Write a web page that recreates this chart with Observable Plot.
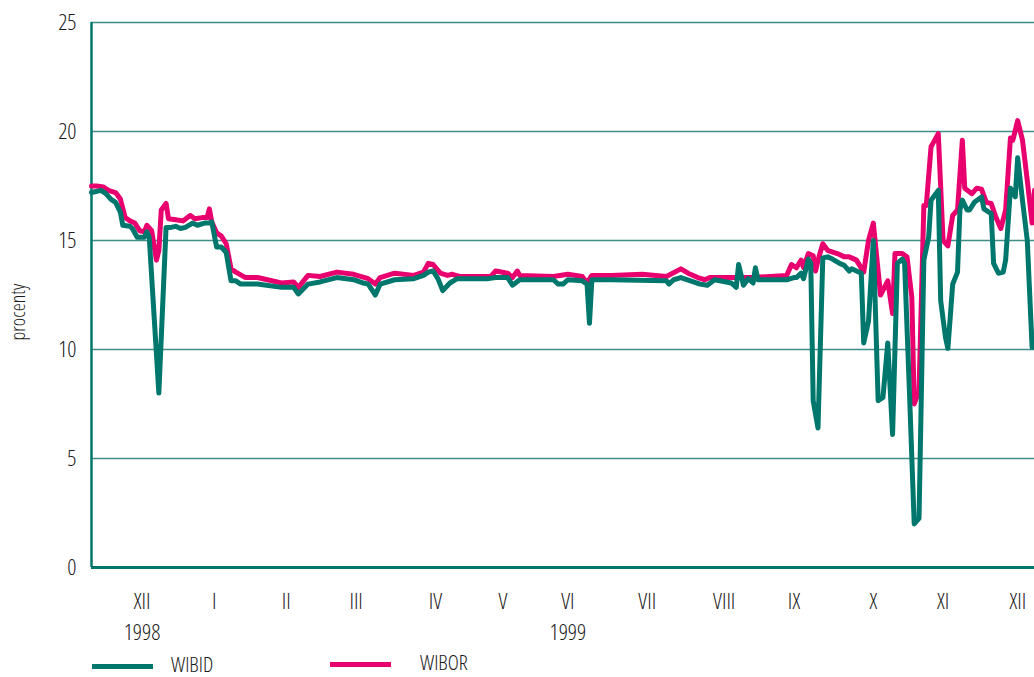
<!DOCTYPE html>
<html>
<head>
<meta charset="utf-8">
<script src="https://cdn.jsdelivr.net/npm/d3@7"></script>
<script src="https://cdn.jsdelivr.net/npm/@observablehq/plot@0.6"></script>
<style>
  body { margin: 0; background: #fff; }
  #wrap { position: relative; width: 1034px; height: 677px; overflow: hidden;
          font-family: 'Open Sans', sans-serif; font-stretch: 75%; font-weight: 300; color: #1a1a1a; }
  #chart svg text { font-stretch: 75%; font-weight: 300; }
  #legend { position: absolute; left: 0; top: 645px; width: 1034px; height: 32px; }
  .sw { position: absolute; width: 61px; height: 5px; }
  .lt { position: absolute; font-size: 21px; line-height: 18px; white-space: nowrap; font-stretch: 75%; font-weight: 300; }
</style>
</head>
<body>
<div id="wrap">
  <div id="chart"></div>
  <div id="legend"></div>
</div>
<script>
// ---- data (day offsets from 23 Nov 1998, values in %) ----
const startUTC = Date.UTC(1998, 10, 23);

const wibidDays = [0, 4, 6, 8, 10, 12, 13, 16, 17, 19, 21, 22, 23, 24, 28, 31, 33, 35, 37, 39, 42, 44, 47, 49, 50,
  52, 54, 56, 58, 60, 62, 69, 79, 84, 86, 90, 95, 102, 109, 113, 115, 118, 120, 126, 134, 138, 140, 142, 144, 146,
  149, 152, 165, 168, 173, 175, 178, 192, 194, 196, 198, 204, 206, 207, 208, 216, 239, 240, 242, 245, 249, 253,
  256, 259, 266, 268, 269, 271, 273, 275, 276, 277, 289, 292, 293, 295, 296, 298, 299, 300, 302, 304, 306, 308,
  311, 313, 315, 316, 318, 320, 321, 323, 325, 327, 329, 331, 333, 335, 337, 338, 340, 342, 344, 346, 348, 349,
  352, 353, 355, 356, 358, 360, 361, 362, 364, 365, 367, 370, 371, 373, 374, 375, 377, 379, 380, 382, 384, 385,
  387, 389, 391, 392];
const wibidValues = [17.2, 17.3, 17.15, 16.9, 16.75, 16.3, 15.7, 15.65, 15.55, 15.15, 15.15, 15.15, 15.4, 15.15,
  8.0, 15.6, 15.6, 15.65, 15.55, 15.6, 15.8, 15.7, 15.8, 15.8, 15.85,
  14.7, 14.7, 14.45, 13.15, 13.15, 13.0, 13.0, 12.85, 12.85, 12.55, 13.0, 13.1, 13.3, 13.2, 13.05, 13.0, 12.5,
  13.0, 13.2, 13.25, 13.4, 13.55, 13.6, 13.25, 12.7,
  13.05, 13.25, 13.25, 13.3, 13.3, 12.95, 13.2, 13.2, 13.0, 13.0, 13.2, 13.15, 13.0, 11.2, 13.2, 13.2, 13.15,
  13.0, 13.2, 13.3, 13.15, 13.0,
  12.95, 13.2, 13.05, 12.85, 13.9, 12.95, 13.25, 13.05, 13.75, 13.2, 13.2, 13.3, 13.3, 13.5, 13.25, 14.15,
  13.95, 7.65, 6.4, 14.2, 14.25, 14.15,
  13.95, 13.85, 13.6, 13.7, 13.6, 13.5, 10.3, 11.3, 15.0, 7.65, 7.8, 10.3, 6.1, 13.95, 14.15, 13.95, 8.1, 2.0,
  2.25, 14.1, 15.15, 16.85,
  17.3, 12.25, 10.55, 10.05, 13.0, 13.55, 16.4, 16.85, 16.4, 16.4, 16.75, 17.0, 16.45, 16.3, 16.25, 13.95,
  13.5, 13.55, 14.1, 17.4, 17.0, 18.8,
  16.85, 15.0, 10.1, 10.1];

const wiborDays = [0, 2, 5, 7, 10, 12, 14, 16, 18, 20, 22, 23, 25, 27, 28, 29, 31, 32, 35, 38, 41, 43, 46, 48, 49,
  50, 52, 54, 56, 58, 60, 64, 69, 79, 84, 86, 90, 95, 102, 109, 115, 118, 120, 126, 134, 138, 140, 142, 145, 148,
  150, 153, 166, 168, 173, 175, 177, 178, 192, 198, 204, 206, 208, 216, 229, 239, 245, 248, 252, 255, 257, 275,
  289, 291, 293, 295, 296, 298, 300, 301, 302, 304, 306, 310, 313, 315, 318, 321, 323, 325, 328, 331, 333, 334,
  337, 339, 341, 342, 344, 346, 347, 349, 350, 352, 354, 356, 358, 360, 362, 363, 366, 368, 370, 372, 374, 376,
  378, 380, 382, 383, 385, 387, 389, 391, 392];
const wiborValues = [17.5, 17.5, 17.45, 17.3, 17.2, 16.9, 16.05, 15.9, 15.8, 15.45, 15.4, 15.7, 15.45, 14.1,
  14.55, 16.4, 16.7, 16.0, 15.95, 15.9, 16.15, 16.0, 16.05, 16.05, 16.45,
  15.85, 15.35, 15.2, 14.85, 13.7, 13.55, 13.3, 13.3, 13.05, 13.1, 12.85, 13.4, 13.35, 13.55, 13.45, 13.25,
  13.0, 13.3, 13.5, 13.4, 13.55, 13.95, 13.9, 13.5, 13.4,
  13.45, 13.35, 13.35, 13.6, 13.5, 13.3, 13.6, 13.4, 13.35, 13.45, 13.35, 13.05, 13.4, 13.4, 13.45, 13.35,
  13.7, 13.5, 13.3, 13.2, 13.3, 13.3,
  13.4, 13.9, 13.75, 14.1, 13.75, 14.4, 14.3, 13.6, 14.1, 14.85, 14.55, 14.4, 14.25, 14.25, 14.1, 13.55, 15.0,
  15.8, 12.5, 13.15, 11.65, 14.4,
  14.4, 14.25, 12.4, 7.5, 8.1, 16.6, 16.6, 19.3, 19.5, 19.9, 15.0, 14.75, 16.15, 16.4, 19.6, 17.4, 17.15, 17.4,
  17.35, 16.75, 16.7, 16.05,
  15.55, 16.4, 19.7, 19.6, 20.5, 19.6, 17.75, 15.8, 17.3];

const monthTickDays = [21, 51, 81, 110, 143, 171, 198, 231, 263, 292, 325, 354, 385];
const monthLabels = ["XII", "I", "II", "III", "IV", "V", "VI", "VII", "VIII", "IX", "X", "XI", "XII"];
const yearTickDays = [21, 198];
const yearLabels = ["1998", "1999"];
const yTicks = [0, 5, 10, 15, 20, 25];
const yTitle = "procenty";
const seriesNames = ["WIBID", "WIBOR"];
const seriesColors = ["#00776D", "#E8006F"];
const axisColor = "#00776D";
const gridColor = "#3F8F88";

// ---- build ----
const day = d => new Date(startUTC + d * 864e5);
const toRows = (days, vals, name) => days.map((d, i) => ({date: day(d), value: vals[i], series: name}));
const wibid = toRows(wibidDays, wibidValues, seriesNames[0]);
const wibor = toRows(wiborDays, wiborValues, seriesNames[1]);

const monthDates = monthTickDays.map(day);
const monthMap = new Map(monthDates.map((d, i) => [+d, monthLabels[i]]));
const yearDates = yearTickDays.map(day);
const yearMap = new Map(yearDates.map((d, i) => [+d, yearLabels[i]]));

const chart = Plot.plot({
  width: 1034,
  height: 645,
  marginLeft: 91,
  marginRight: 0,
  marginTop: 22,
  marginBottom: 78,
  style: {fontFamily: "'Open Sans', sans-serif", fontSize: "22.5px", color: "#1a1a1a", background: "#fff", overflow: "visible"},
  x: {type: "utc", domain: [day(0), day(392)]},
  y: {domain: [0, 25]},
  marks: [
    Plot.gridY(yTicks, {stroke: gridColor, strokeOpacity: 1, strokeWidth: 1.5}),
    Plot.ruleX([day(0)], {stroke: axisColor, strokeWidth: 2.5}),
    Plot.ruleY([0], {stroke: axisColor, strokeWidth: 3}),
    Plot.lineY(wibor, {x: "date", y: "value", stroke: seriesColors[1], strokeWidth: 5, strokeLinejoin: "round"}),
    Plot.lineY(wibid, {x: "date", y: "value", stroke: seriesColors[0], strokeWidth: 5, strokeLinejoin: "round"}),
    Plot.axisY(yTicks, {tickSize: 0, tickPadding: 15, label: null}),
    Plot.axisX(monthDates, {tickSize: 0, tickPadding: 26, tickFormat: d => monthMap.get(+d), label: null}),
    Plot.axisX(yearDates, {tickSize: 0, tickPadding: 57, tickFormat: d => yearMap.get(+d), label: null})
  ]
});
document.getElementById("chart").appendChild(chart);

// y-axis title, rotated, left of the axis (slightly below centre as in the reference)
d3.select(chart).append("text")
  .attr("transform", "translate(18,312) rotate(-90)")
  .attr("text-anchor", "middle")
  .attr("dy", "0.35em")
  .style("font-size", "20px")
  .attr("fill", "#1a1a1a")
  .text(yTitle);

// ---- legend ----
const legend = document.getElementById("legend");
const legendPos = [{sx: 92, sy: 19, tx: 171, ty: 10}, {sx: 330, sy: 17, tx: 420, ty: 8}];
seriesNames.forEach((name, i) => {
  const sw = document.createElement("div");
  sw.className = "sw";
  sw.style.left = legendPos[i].sx + "px";
  sw.style.top = legendPos[i].sy + "px";
  sw.style.background = seriesColors[i];
  legend.appendChild(sw);
  const t = document.createElement("span");
  t.className = "lt";
  t.style.left = legendPos[i].tx + "px";
  t.style.top = legendPos[i].ty + "px";
  t.textContent = name;
  legend.appendChild(t);
});
</script>
</body>
</html>
